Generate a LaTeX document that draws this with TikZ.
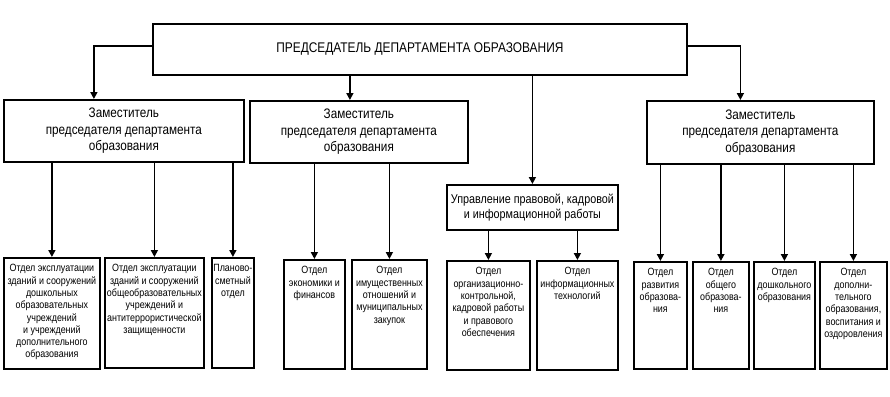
\documentclass[tikz,border=0pt]{standalone}
\usepackage{fontspec}
\setmainfont{Liberation Sans}[FakeStretch=0.85]
\usetikzlibrary{arrows.meta,positioning}
\tikzset{
  box/.style={draw, line width=1.8pt, inner sep=0pt, anchor=north west, align=center},
  arr/.style={line width=1.6pt, -{Triangle[length=7pt,width=7pt]}},
  bigtxt/.style={font=\fontsize{14}{17}\selectfont},
  midtxt/.style={font=\fontsize{13.8}{16.5}\selectfont},
  utxt/.style={font=\fontsize{12.7}{15}\selectfont},
  smalltxt/.style={font=\fontsize{10.5}{12.3}\selectfont},
  dept/.style={box, label={[anchor=north, yshift=-4pt, align=center, smalltxt]north:{#1}}},
}
\begin{document}
\begin{tikzpicture}[x=1pt,y=-1pt]
\useasboundingbox (0,0) rectangle (890,396);
% top
\node[box, bigtxt, minimum width=534pt, minimum height=51pt] (T) at (152,23) {ПРЕДСЕДАТЕЛЬ ДЕПАРТАМЕНТА ОБРАЗОВАНИЯ};
% deputies
\node[box, midtxt, minimum width=240pt, minimum height=62pt] (D1) at (3,99) {Заместитель\\председателя департамента\\образования};
\node[box, midtxt, minimum width=218pt, minimum height=62pt] (D2) at (249,100) {Заместитель\\председателя департамента\\образования};
\node[box, utxt, minimum width=171pt, minimum height=45pt] (U) at (446,184) {Управление правовой, кадровой\\и информационной работы};
\node[box, midtxt, minimum width=227pt, minimum height=63pt] (D4) at (646,100) {Заместитель\\председателя департамента\\образования};
% departments
\node[dept={Отдел эксплуатации\\зданий и сооружений\\дошкольных\\образовательных\\учреждений\\и учреждений\\дополнительного\\образования}, minimum width=96pt, minimum height=111pt] (a) at (3,257) {};
\node[dept={Отдел эксплуатации\\зданий и сооружений\\общеобразовательных\\учреждений и\\антитеррористической\\защищенности}, minimum width=99pt, minimum height=110pt] (b) at (104,257) {};
\node[dept={Планово-\\сметный\\отдел}, minimum width=42pt, minimum height=110pt] (c) at (211,257) {};
\node[dept={Отдел\\экономики и\\финансов}, minimum width=61pt, minimum height=109pt] (d) at (283,259) {};
\node[dept={Отдел\\имущественных\\отношений и\\муниципальных\\закупок}, minimum width=75pt, minimum height=109pt] (e) at (351,259) {};
\node[dept={Отдел\\организационно-\\контрольной,\\кадровой работы\\и правового\\обеспечения}, minimum width=83pt, minimum height=109pt] (f) at (446,260) {};
\node[dept={Отдел\\информационных\\технологий}, minimum width=81pt, minimum height=109pt] (g) at (536,260) {};
\node[dept={Отдел\\развития\\образова-\\ния}, minimum width=53pt, minimum height=107pt] (h) at (633,261) {};
\node[dept={Отдел\\общего\\образова-\\ния}, minimum width=56pt, minimum height=107pt] (i) at (692,261) {};
\node[dept={Отдел\\дошкольного\\образования}, minimum width=61pt, minimum height=107pt] (j) at (753,261) {};
\node[dept={Отдел\\дополни-\\тельного\\образования,\\воспитания и\\оздоровления}, minimum width=67pt, minimum height=107pt] (k) at (819,261) {};
% connectors from top
\coordinate (D1in) at ([xshift=-30pt]D1.north);
\coordinate (D2in) at ([xshift=-9pt]D2.north);
\coordinate (D4in) at ([xshift=-20pt]D4.north);
\draw[arr] ([yshift=3.5pt]T.west) -| (D1in);
\draw[arr] (T.south -| D2in) -- (D2in);
\draw[arr] (T.south -| U.north) -- (U.north);
\draw[arr] ([yshift=3.5pt]T.east) -| (D4in);
% connectors to departments
\foreach \p/\c in {D1/a, D1/b, D1/c, D2/d, D2/e, U/f, U/g, D4/h, D4/i, D4/j, D4/k}
  \draw[arr] (\p.south -| \c.north) -- (\c.north);
\end{tikzpicture}
\end{document}
